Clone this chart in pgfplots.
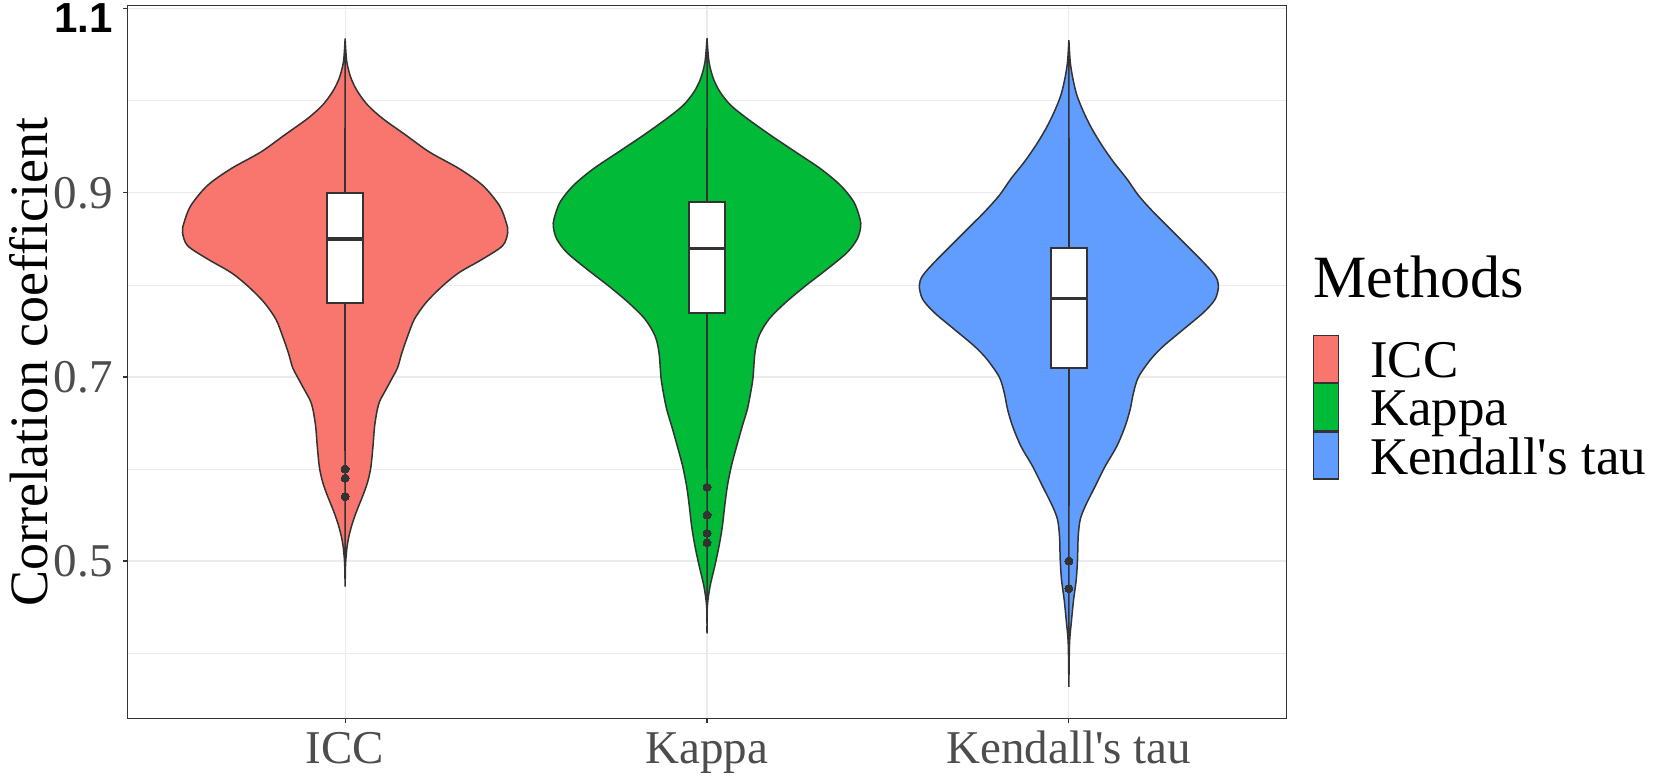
\documentclass[border=0pt]{standalone}
\usepackage{fontspec}
\setmainfont{Liberation Serif}
\newfontfamily\arialfont{Liberation Sans}
\usepackage{pgfplots}
\pgfplotsset{compat=1.18}
\usepackage{pgfplotstable}
\usepgfplotslibrary{fillbetween}
\usepgfplotslibrary{statistics}

\definecolor{iccc}{HTML}{F8766D}
\definecolor{kapc}{HTML}{00BA38}
\definecolor{kenc}{HTML}{619CFF}
\definecolor{g20}{HTML}{333333}
\definecolor{g30}{HTML}{4D4D4D}
\definecolor{gridc}{HTML}{EBEBEB}

% violin outlines: v = value, w = half-width (x units)
\pgfplotstableread{
v w
1.0680 0
1.0425 0.0046
1.0243 0.0166
1.0098 0.0350
0.9953 0.0626
0.9807 0.1041
0.9626 0.1685
0.9444 0.2330
0.9262 0.3158
0.9081 0.3803
0.8863 0.4263
0.8681 0.4448
0.8572 0.4494
0.8427 0.4355
0.8282 0.3803
0.8136 0.3158
0.7991 0.2698
0.7809 0.2238
0.7628 0.1915
0.7446 0.1731
0.7264 0.1570
0.7100 0.1450
0.7000 0.1317
0.6900 0.1180
0.6829 0.1080
0.6740 0.0960
0.6648 0.0890
0.6466 0.0815
0.6248 0.0770
0.6030 0.0715
0.5900 0.0650
0.5812 0.0585
0.5700 0.0480
0.5594 0.0370
0.5480 0.0260
0.5376 0.0175
0.5260 0.0100
0.5158 0.0055
0.5040 0.0025
0.4940 0.0010
0.4722 0
}\iccdata

\pgfplotstableread{
v w
1.0680 0
1.0425 0.0055
1.0243 0.0175
1.0098 0.0359
0.9953 0.0654
0.9807 0.1114
0.9626 0.1759
0.9444 0.2449
0.9262 0.3140
0.9081 0.3692
0.8899 0.4061
0.8718 0.4227
0.8627 0.4245
0.8500 0.4153
0.8354 0.3877
0.8173 0.3324
0.7991 0.2726
0.7809 0.2173
0.7628 0.1713
0.7446 0.1436
0.7264 0.1326
0.6992 0.1271
0.6829 0.1206
0.6648 0.1114
0.6466 0.0976
0.6248 0.0820
0.6030 0.0672
0.5812 0.0562
0.5594 0.0488
0.5376 0.0424
0.5158 0.0331
0.4940 0.0212
0.4722 0.0083
0.4504 0.0009
0.4213 0
}\kapdata

\pgfplotstableread{
v w
1.0661 0
1.0425 0.0037
1.0243 0.0110
1.0062 0.0221
0.9880 0.0405
0.9698 0.0635
0.9517 0.0912
0.9335 0.1234
0.9153 0.1602
0.8972 0.1924
0.8790 0.2339
0.8609 0.2799
0.8427 0.3260
0.8245 0.3720
0.8100 0.4042
0.7991 0.4134
0.7845 0.4042
0.7700 0.3720
0.7518 0.3168
0.7336 0.2615
0.7193 0.2265
0.7000 0.1924
0.6829 0.1786
0.6648 0.1694
0.6466 0.1556
0.6248 0.1326
0.6030 0.1004
0.5812 0.0727
0.5594 0.0451
0.5449 0.0313
0.5267 0.0258
0.5013 0.0239
0.4795 0.0203
0.4577 0.0129
0.4359 0.0074
0.4104 0.0018
0.3632 0
}\kendata

\begin{document}
\begin{tikzpicture}
\begin{axis}[
  width=579pt, height=356pt, scale only axis,
  clip mode=individual,
  xmin=0.4, xmax=3.6, ymin=0.3294, ymax=1.1031,
  xtick={1,2,3},
  xticklabels={ICC,Kappa,Kendall\textquotesingle s tau},
  ytick={0.5,0.7,0.9},
  yticklabels={0.5,0.7,0.9},
  minor ytick={0.4,0.6,0.8,1.0},
  extra y ticks={1.1},
  extra y tick labels={1.1},
  extra y tick style={grid=major, yticklabel style={font=\arialfont\bfseries\fontsize{21}{21}\selectfont, text=black, yshift=-4.5pt}},
  xmajorgrids, ymajorgrids, yminorgrids,
  major grid style={draw=gridc, line width=0.6pt},
  minor grid style={draw=gridc, line width=0.4pt},
  axis line style={draw=g20, line width=0.5pt},
  tick style={draw=g20, line width=0.6pt},
  tick align=outside,
  xtick pos=bottom, ytick pos=left,
  major tick length=2.5pt, minor tick length=0pt,
  ticklabel style={font=\fontsize{23.5}{23.5}\selectfont, text=g30},
  xticklabel style={anchor=base, yshift=-20pt},
  yticklabel style={anchor=east, inner sep=0pt, xshift=-5pt},
  ylabel={Correlation coefficient},
  ylabel style={font=\fontsize{27}{27}\selectfont, text=black, at={(axis description cs:-0.06995,0.5)}, anchor=base},
  legend style={at={(axis description cs:1.0233,0.5379)}, anchor=north west, draw=none, fill=none, inner sep=0pt, outer sep=0pt, row sep=0pt, column sep=15.5pt, font=\fontsize{26.5}{26.5}\selectfont, nodes={inner sep=0pt, text height=21pt, text depth=2.5pt, anchor=base west}},
  legend cell align=left,
  legend image code/.code={\draw[#1, line width=0.6pt] (0pt,-2.5pt) rectangle (12.5pt,21pt);},
  boxplot/draw direction=y,
]
\addlegendimage{fill=iccc, draw=g20}
\addlegendentry{ICC}
\addlegendimage{fill=kapc, draw=g20}
\addlegendentry{Kappa}
\addlegendimage{fill=kenc, draw=g20}
\addlegendentry{Kendall\textquotesingle s tau}

% ICC violin
\addplot[draw=none, forget plot, smooth, name path=iccR] table[x expr=1+\thisrow{w}, y=v] {\iccdata};
\addplot[draw=none, forget plot, smooth, name path=iccL] table[x expr=1-\thisrow{w}, y=v] {\iccdata};
\addplot[fill=iccc, draw=g20, line width=0.75pt, forget plot] fill between[of=iccR and iccL];
% Kappa violin
\addplot[draw=none, forget plot, smooth, name path=kapR] table[x expr=2+\thisrow{w}, y=v] {\kapdata};
\addplot[draw=none, forget plot, smooth, name path=kapL] table[x expr=2-\thisrow{w}, y=v] {\kapdata};
\addplot[fill=kapc, draw=g20, line width=0.75pt, forget plot] fill between[of=kapR and kapL];
% Kendall violin
\addplot[draw=none, forget plot, smooth, name path=kenR] table[x expr=3+\thisrow{w}, y=v] {\kendata};
\addplot[draw=none, forget plot, smooth, name path=kenL] table[x expr=3-\thisrow{w}, y=v] {\kendata};
\addplot[fill=kenc, draw=g20, line width=0.75pt, forget plot] fill between[of=kenR and kenL];

% boxplots
\pgfplotsset{boxplot/every median/.style={line width=1.6pt}, boxplot/every whisker/.style={line width=0.7pt}}
\addplot[forget plot, draw=g20, fill=white, line width=1pt, mark=*, mark size=2pt, mark options={fill=g20, draw=g20, line width=0pt},
  boxplot prepared={draw position=1, lower whisker=0.62, lower quartile=0.78, median=0.85, upper quartile=0.90, upper whisker=0.97, box extend=0.1, whisker extend=0}]
  table[row sep=\\, y index=0] {0.60\\ 0.59\\ 0.57\\};
\addplot[forget plot, draw=g20, fill=white, line width=1pt, mark=*, mark size=2pt, mark options={fill=g20, draw=g20, line width=0pt},
  boxplot prepared={draw position=2, lower whisker=0.60, lower quartile=0.77, median=0.84, upper quartile=0.89, upper whisker=0.97, box extend=0.1, whisker extend=0}]
  table[row sep=\\, y index=0] {0.58\\ 0.55\\ 0.53\\ 0.52\\};
\addplot[forget plot, draw=g20, fill=white, line width=1pt, mark=*, mark size=2pt, mark options={fill=g20, draw=g20, line width=0pt},
  boxplot prepared={draw position=3, lower whisker=0.56, lower quartile=0.71, median=0.785, upper quartile=0.84, upper whisker=0.96, box extend=0.1, whisker extend=0}]
  table[row sep=\\, y index=0] {0.50\\ 0.47\\};

\node[anchor=base west, inner sep=0pt, font=\fontsize{30}{30}\selectfont] at (axis description cs:1.0233,0.5899) {Methods};
\end{axis}
\pgfresetboundingbox
\path[use as bounding box] (-64pt,-30pt) rectangle (769.5pt,359pt);
\end{tikzpicture}
\end{document}
